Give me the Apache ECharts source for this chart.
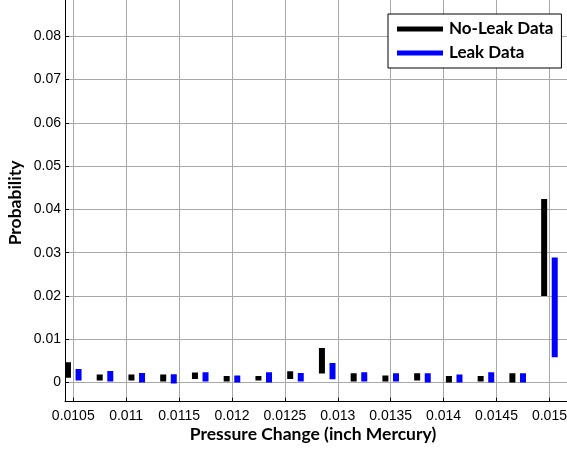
<!DOCTYPE html>
<html>
<head>
<meta charset="utf-8">
<script src="https://cdn.jsdelivr.net/npm/echarts@6/dist/echarts.min.js"></script>
<style>html,body{margin:0;padding:0;background:#fff}#c{width:567px;height:450px}</style>
</head>
<body>
<div id="c"></div>
<script>
// Bin positions (pressure change, inch Mercury)
const noLeakX = [0.01045,0.01075,0.01105,0.01135,0.01165,0.01195,0.01225,0.01255,0.01285,0.01315,0.01345,0.01375,0.01405,0.01435,0.01465,0.01495];
const leakX   = [0.01055,0.01085,0.01115,0.01145,0.01175,0.01205,0.01235,0.01265,0.01295,0.01325,0.01355,0.01385,0.01415,0.01445,0.01475,0.01505];
// Probability ranges (low, high) for each bin
const noLeakLow  = [0.00115,0.00046,0.00046,0.00023,0.00085,0.00023,0.00046,0.00085,0.00208,0.00023,0.00023,0.00046,0.00000,0.00023,0.00000,0.02002];
const noLeakHigh = [0.00471,0.00185,0.00185,0.00185,0.00231,0.00155,0.00155,0.00263,0.00800,0.00217,0.00162,0.00217,0.00155,0.00155,0.00217,0.04243];
const leakLow    = [0.00046,0.00023,0.00000,-0.00023,0.00023,0.00000,0.00000,0.00023,0.00078,0.00023,0.00023,0.00000,0.00000,0.00000,0.00000,0.00587];
const leakHigh   = [0.00316,0.00270,0.00224,0.00194,0.00240,0.00162,0.00240,0.00224,0.00455,0.00240,0.00217,0.00217,0.00185,0.00240,0.00217,0.02887];
// Tick values and labels
const xTickValues = [0.0105,0.011,0.0115,0.012,0.0125,0.013,0.0135,0.014,0.0145,0.015];
const xTickLabels = ['0.0105','0.011','0.0115','0.012','0.0125','0.013','0.0135','0.014','0.0145','0.015'];
const yTickValues = [0,0.01,0.02,0.03,0.04,0.05,0.06,0.07,0.08];
const yTickLabels = ['0','0.01','0.02','0.03','0.04','0.05','0.06','0.07','0.08'];
const seriesNames = ['No-Leak Data','Leak Data'];
const xTitle = 'Pressure Change (inch Mercury)';
const yTitle = 'Probability';

function fmt(values, labels){
  return function(v){
    for (let i=0;i<values.length;i++){ if (Math.abs(v-values[i])<1e-9) return labels[i]; }
    return '';
  };
}
function build(xs, lo, hi){ return xs.map((x,i)=>[x, lo[i], hi[i]]); }
function renderBar(color){
  return function(params, api){
    const x = api.value(0), lo = api.value(1), hi = api.value(2);
    const p1 = api.coord([x, hi]);
    const p2 = api.coord([x, lo]);
    const w = 6;
    return {type:'rect', shape:{x:p1[0]-w/2, y:p1[1], width:w, height:p2[1]-p1[1]}, style:{fill:color}};
  };
}

const chart = echarts.init(document.getElementById('c'), null, {renderer:'canvas'});
const gridColor = '#a8a8a8';
chart.setOption({
  animation:false,
  backgroundColor:'#fff',
  grid:{left:65, right:-20, top:-20, bottom:48.3, containLabel:false, outerBoundsMode:'none'},
  xAxis:{
    type:'value', min:0.010422, max:0.015355, splitNumber:10,
    axisLine:{show:true, onZero:false, lineStyle:{color:'#000', width:1}},
    axisTick:{show:true, inside:true, length:4, lineStyle:{color:'#000'}},
    axisLabel:{formatter:fmt(xTickValues,xTickLabels), color:'#000', fontFamily:'Liberation Sans, Arial', fontSize:14, margin:7},
    splitLine:{show:true, lineStyle:{color:gridColor, width:1}}
  },
  yAxis:{
    type:'value', min:-0.00441, max:0.09298, splitNumber:9,
    axisLine:{show:true, onZero:false, lineStyle:{color:'#000', width:1}},
    axisTick:{show:true, inside:true, length:4, lineStyle:{color:'#000'}},
    axisLabel:{formatter:fmt(yTickValues,yTickLabels), color:'#000', fontFamily:'Liberation Sans, Arial', fontSize:14, margin:4},
    splitLine:{show:true, lineStyle:{color:gridColor, width:1}}
  },
  legend:{
    orient:'vertical', left:388, top:14,
    data:[{name:seriesNames[0], icon:'rect'},{name:seriesNames[1], icon:'rect'}],
    itemWidth:46, itemHeight:5, itemGap:4,
    padding:[5,8,5,9],
    backgroundColor:'#fff', borderColor:'#000', borderWidth:1, borderRadius:0,
    textStyle:{fontFamily:'Lato', fontWeight:'bold', fontSize:17, color:'#000', lineHeight:20, padding:[0,0,0,1]},
    selectedMode:false
  },
  graphic:[{
    type:'text', x:313, y:434,
    style:{text:xTitle, textAlign:'center', textVerticalAlign:'middle', font:'bold 17.5px Lato', fill:'#000'}
  },{
    type:'text', x:15, y:203, rotation:Math.PI/2,
    style:{text:yTitle, textAlign:'center', textVerticalAlign:'middle', font:'bold 17.5px Lato', fill:'#000'}
  }],
  series:[
    {name:seriesNames[0], type:'custom', renderItem:renderBar('#000000'), itemStyle:{color:'#000000'},
     encode:{x:0, y:[1,2]}, data:build(noLeakX,noLeakLow,noLeakHigh), clip:true, z:3},
    {name:seriesNames[1], type:'custom', renderItem:renderBar('#0000ff'), itemStyle:{color:'#0000ff'},
     encode:{x:0, y:[1,2]}, data:build(leakX,leakLow,leakHigh), clip:true, z:3}
  ]
});
</script>
</body>
</html>
